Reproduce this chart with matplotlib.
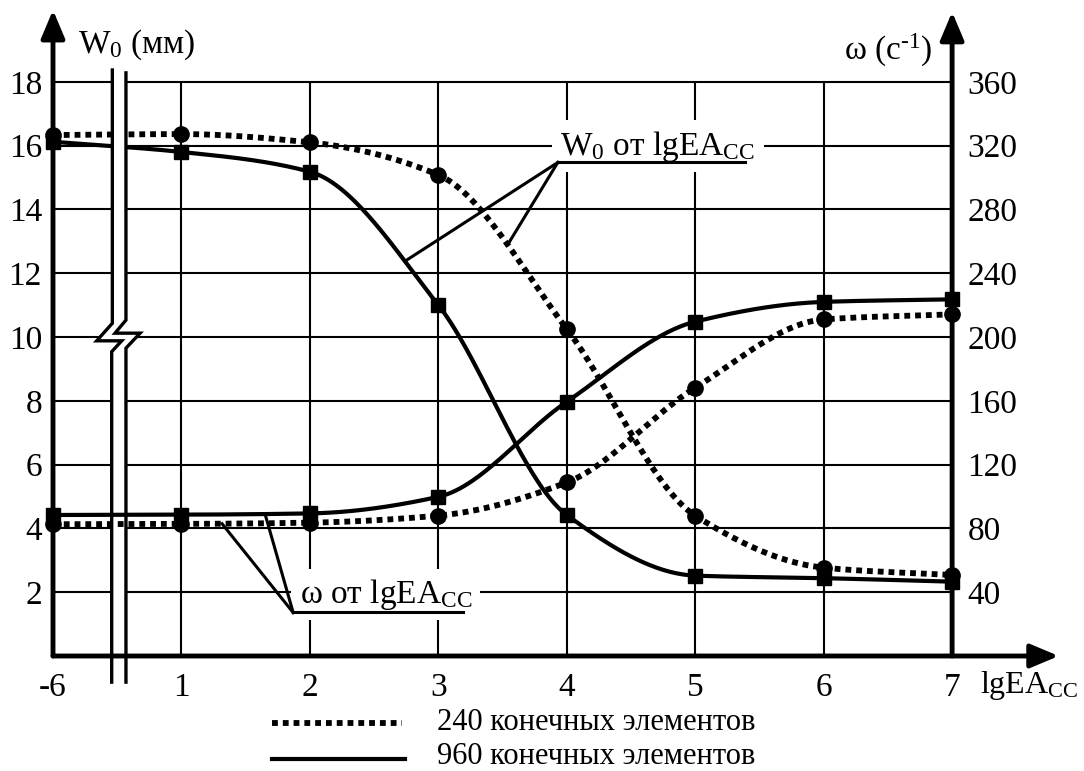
import numpy as np
import matplotlib.pyplot as plt
from matplotlib.lines import Line2D
from matplotlib.patches import Polygon

plt.rcParams['font.family'] = ['Liberation Serif', 'DejaVu Serif']
plt.rcParams['mathtext.fontset'] = 'custom'
plt.rcParams['mathtext.rm'] = 'Liberation Serif'
plt.rcParams['mathtext.it'] = 'Liberation Serif:italic'
plt.rcParams['mathtext.bf'] = 'Liberation Serif:bold'

# x axis: -6, then 1..7 (axis is broken between -6 and 1)
x_labels = ['-6', '1', '2', '3', '4', '5', '6', '7']
x = np.arange(len(x_labels))

# W0, mm (left axis)
w0_240 = [16.33, 16.36, 16.10, 15.08, 10.25, 4.40, 2.77, 2.54]
w0_960 = [16.12, 15.80, 15.18, 11.00, 4.42, 2.52, 2.44, 2.33]
# omega, 1/s (right axis)
om_240 = [82.6, 82.8, 83.6, 88.0, 108.8, 168.2, 211.0, 214.2]
om_960 = [88.4, 88.6, 89.4, 99.8, 159.4, 209.6, 222.0, 223.6]

w_ticks = [2, 4, 6, 8, 10, 12, 14, 16, 18]
om_ticks = [40, 80, 120, 160, 200, 240, 280, 320, 360]

legend_labels = ['240 конечных элементов', '960 конечных элементов']

FS = 24
ymax = 20.25
xmax = 7.84


def smooth(xs, ys, n=60):
    # monotone cubic (PCHIP-like) curve through the points
    xs = np.asarray(xs, float)
    ys = np.asarray(ys, float)
    h = np.diff(xs)
    d = np.diff(ys) / h
    m = np.zeros_like(ys)
    for i in range(1, len(ys) - 1):
        if d[i - 1] * d[i] > 0:
            m[i] = 2 / (1 / d[i - 1] + 1 / d[i])
    m[0] = d[0]
    m[-1] = d[-1]
    xo, yo = [], []
    for i in range(len(xs) - 1):
        t = np.linspace(0, 1, n, endpoint=(i == len(xs) - 2))
        h00 = 2 * t**3 - 3 * t**2 + 1
        h10 = t**3 - 2 * t**2 + t
        h01 = -2 * t**3 + 3 * t**2
        h11 = t**3 - t**2
        xo.append(xs[i] + t * h[i])
        yo.append(h00 * ys[i] + h10 * h[i] * m[i] + h01 * ys[i + 1] + h11 * h[i] * m[i + 1])
    return np.concatenate(xo), np.concatenate(yo)


fig = plt.figure(figsize=(10.84, 7.71), dpi=100)
ax = fig.add_axes([53 / 1084, 115 / 771, (1060 - 53) / 1084, 646 / 771])
ax.set_xlim(0, xmax)
ax.set_ylim(0, ymax)
ax2 = ax.twinx()
ax2.set_ylim(0, ymax * 20)
for a in (ax, ax2):
    for s in a.spines.values():
        s.set_visible(False)
ax2.spines['right'].set_position(('data', 7))

# grid
ax.hlines(w_ticks, 0, 7, color='k', lw=1.5, zorder=1)
ax.vlines(x[1:-1], 0, w_ticks[-1], color='k', lw=1.5, zorder=1)

dot = dict(color='k', lw=4.2, linestyle=(0, (1.0, 0.85)), zorder=3)
sol = dict(color='k', lw=3.0, zorder=3)

xs, ys = smooth(x, w0_240)
ax.plot(xs, ys, **dot)
ax.plot(x, w0_240, 'o', color='k', ms=11, zorder=4, clip_on=False)
xs, ys = smooth(x, w0_960)
ax.plot(xs, ys, **sol)
ax.plot(x, w0_960, 's', color='k', ms=10, zorder=4, clip_on=False)

xs, ys = smooth(x, om_240)
ax2.plot(xs, ys, **dot)
ax2.plot(x, om_240, 'o', color='k', ms=11, zorder=4, clip_on=False)
xs, ys = smooth(x, om_960)
ax2.plot(xs, ys, **sol)
ax2.plot(x, om_960, 's', color='k', ms=10, zorder=4, clip_on=False)


# leader lines and labels
def on_curve(xv, data):
    cx, cy = smooth(x, data)
    return np.interp(xv, cx, cy)


apex = (3.93, 15.47)
for xv, data in [(2.74, w0_960), (3.54, w0_240)]:
    ax.plot([apex[0], xv], [apex[1], on_curve(xv, data)], color='k', lw=2.2, zorder=5)
ax.plot([apex[0], 5.39], [15.49, 15.49], color='k', lw=2.2, zorder=5)
ax.text(3.95, 15.72, r'W$_0$ от lgEA$_{\mathrm{CC}}$', fontsize=FS, ha='left', va='baseline',
        zorder=2, bbox=dict(fc='w', ec='none', pad=6))

apex2 = (1.87, 1.36 * 20)
for xv, data in [(1.316, om_240), (1.651, om_960)]:
    ax2.plot([apex2[0], xv], [apex2[1], on_curve(xv, data)], color='k', lw=2.2, zorder=5)
ax2.plot([apex2[0], 3.19], [1.38 * 20, 1.38 * 20], color='k', lw=2.2, zorder=5)
ax2.text(1.92, 1.66 * 20, r'ω от lgEA$_{\mathrm{CC}}$', fontsize=FS, ha='left', va='baseline',
         zorder=2, bbox=dict(fc='w', ec='none', pad=6))

# axis break
xl, xr = 0.462, 0.568
left = [(xl, 18.37), (xl, 10.43), (0.340, 9.88), (0.535, 9.88), (xl - 0.005, 9.54), (xl - 0.005, -0.82)]
right = [(xr, 18.28), (xr, 10.53), (0.483, 10.12), (0.678, 10.12), (xr, 9.65), (xr, -0.82)]
ax.add_patch(Polygon(left + right[::-1], closed=True, fc='w', ec='none', zorder=6, clip_on=False))
for path in (left, right):
    px, py = zip(*path)
    ax.plot(px, py, color='k', lw=2.4, zorder=7, clip_on=False, solid_joinstyle='miter')

# axes with arrows
arr = dict(arrowstyle='-|>,head_length=0.95,head_width=0.4', color='k', lw=3.5,
           mutation_scale=18, shrinkA=0, shrinkB=0)
ax.annotate('', xy=(0, ymax), xytext=(0, 0), arrowprops=arr, zorder=8, annotation_clip=False)
ax.annotate('', xy=(xmax - 0.01, 0), xytext=(0, 0), arrowprops=arr, zorder=8, annotation_clip=False)
ax.annotate('', xy=(7, ymax - 0.06), xytext=(7, 0), arrowprops=arr, zorder=8, annotation_clip=False)

ax.set_xticks(x, x_labels)
ax.set_yticks(w_ticks)
ax2.set_yticks(om_ticks)
ax.tick_params(axis='x', length=0, pad=12, labelsize=FS)
ax.tick_params(axis='y', length=0, pad=8, labelsize=FS)
ax2.tick_params(axis='y', length=0, pad=11, labelsize=FS)

ax.text(0.195, 18.9, r'W$_0$ (мм)', fontsize=FS, ha='left', va='baseline')
ax.text(6.846, 18.68, r'ω (с$^{\text{-}1}$)', fontsize=FS, ha='right', va='baseline')
ax.text(7.22, -1.16, r'lgEA$_{\mathrm{CC}}$', fontsize=FS - 1, ha='left', va='baseline', clip_on=False)

# legend
fig.add_artist(Line2D([272 / 1084, 402 / 1084], [1 - 723 / 771] * 2, color='k', lw=4.2,
                      linestyle=(0, (1.0, 0.85))))
fig.add_artist(Line2D([272 / 1084, 405 / 1084], [1 - 759 / 771] * 2, color='k', lw=3.0))
fig.text(437 / 1084, 1 - 722 / 771, legend_labels[0], fontsize=FS - 2, va='center')
fig.text(437 / 1084, 1 - 757 / 771, legend_labels[1], fontsize=FS - 2, va='center')

fig.savefig('out.png', dpi=100)
